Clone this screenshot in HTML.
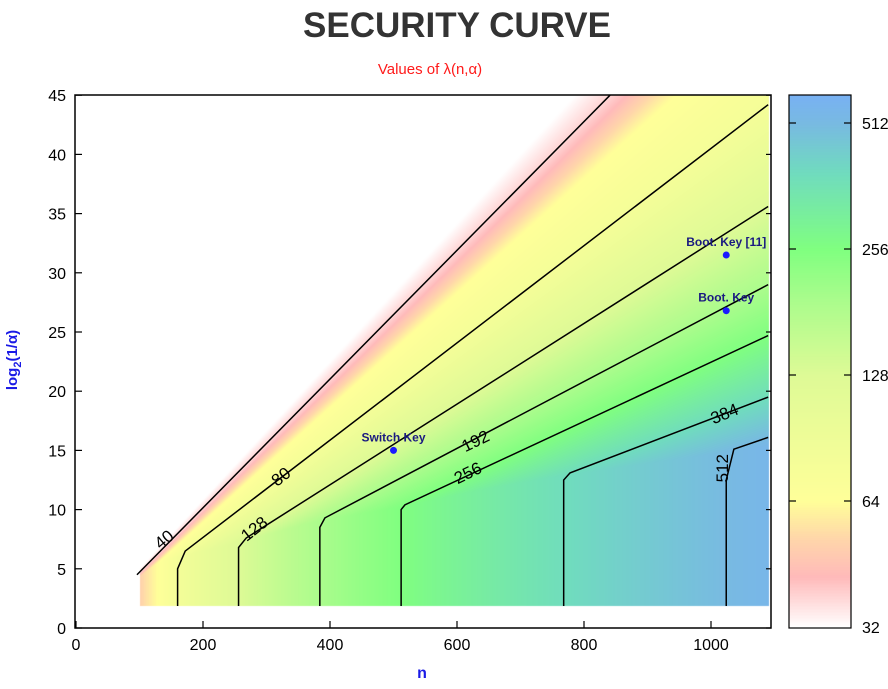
<!DOCTYPE html>
<html><head><meta charset="utf-8">
<style>
body{margin:0;background:#fff;width:888px;height:689px;overflow:hidden;font-family:"Liberation Sans",sans-serif}
#wrap{position:relative;width:888px;height:689px}
canvas,svg{position:absolute;left:0;top:0}
</style></head>
<body>
<div id="wrap">
<canvas id="heat" width="888" height="689"></canvas>
<svg id="svg" width="888" height="689">
<text x="457" y="37" text-anchor="middle" font-size="35" font-weight="bold" fill="#333" font-family="Liberation Sans, sans-serif">SECURITY CURVE</text>
<text x="430" y="74" text-anchor="middle" font-size="15" fill="#ff1a1a">Values of λ(n,α)</text>
<text x="422" y="678" text-anchor="middle" font-size="16" font-weight="bold" fill="#1a1ae6">n</text>
<text transform="translate(17,360) rotate(-90)" text-anchor="middle" font-size="15" font-weight="bold" fill="#1a1ae6">log<tspan font-size="11" dy="4">2</tspan><tspan dy="-4">(1/α)</tspan></text>
</svg>
</div>
<script>
// ---- data ----
const xTicks=[0,200,400,600,800,1000];
const yTicks=[0,5,10,15,20,25,30,35,40,45];
const cbTicks=[32,64,128,256,512];
const levels=[40,80,128,192,256,384,512];
const vertN=[null,160,256,384,512,768,1024];
const kneeY=[null,5.0,6.8,8.5,10.0,12.5,12.5];
const startN=[96,172,268,392,518,778,1036];
const startY=[4.5,6.5,7.6,9.3,10.4,13.1,15.1];
const endN=[841,1090,1090,1090,1090,1090,1090];
const endY=[45,44.2,35.6,29,24.7,19.5,16.1];
const labelText=["40","80","128","192","256","384","512"];
const labelN=[140,324,282,630,618,1022,1020];
const labelY=[7.4,12.7,8.3,15.7,13.0,18.0,13.5];
const labelAng=[-40,-38,-38,-26,-26,-22,-90];
const ptNames=["Switch Key","Boot. Key [11]","Boot. Key"];
const ptN=[500,1024,1024];
const ptY=[15,31.5,26.8];
// ---- axes ----
const X0=76,XS=0.635,Y0=628,YS=11.84;
const L=75,R=771,T=95,B=628;
const nMin=100,nMax=1091,yMin=1.86;
function sx(n){return X0+XS*n}
function sy(v){return Y0-YS*v}
function ix(px){return (px-X0)/XS}
function iy(py){return (Y0-py)/YS}
const CB={l:789,r:851,t:95,b:628};
function cby(l){return 627-126*(Math.log2(l)-5)}
// colormap
const cStops=[[5,[255,255,255]],[5.4,[255,186,186]],[5.7,[255,214,170]],[6,[255,255,153]],[7,[222,250,150]],[7.6,[170,252,140]],[8,[128,255,128]],[8.6,[112,220,190]],[9,[120,186,226]],[9.25,[120,176,245]]];
function col(lv){
 if(lv<=cStops[0][0])return cStops[0][1];
 for(let i=1;i<cStops.length;i++){if(lv<=cStops[i][0]){const a=cStops[i-1],b=cStops[i],t=(lv-a[0])/(b[0]-a[0]);return a[1].map((c,k)=>c+(b[1][k]-c)*t);}}
 return cStops[cStops.length-1][1];
}
function lineY(k,n){return startY[k]+(endY[k]-startY[k])*(n-startN[k])/(endN[k]-startN[k])}
function firstBand(t){
 if(t<0.12)return 5.25+t/0.12*0.15;
 if(t<0.45)return 5.4+(t-0.12)/0.33*0.6;
 return 6+(t-0.45)/0.55*0.32;
}
function lam(n,y){
 const ys=levels.map((_,k)=>lineY(k,n));
 const lg=levels.map(Math.log2);
 let v;
 if(y>=ys[0]){v=5.25-(y-ys[0])/(0.3*Math.max(0.5,ys[0]-ys[1]))*0.25;}
 else if(y<=ys[6]){v=lg[6]+(ys[6]-y)/Math.max(0.5,ys[5]-ys[6])*(lg[6]-lg[5]);}
 else{for(let k=0;k<6;k++){if(y<=ys[k]&&y>=ys[k+1]){let t=(ys[k]-y)/Math.max(1e-6,ys[k]-ys[k+1]);v=(k===0)?firstBand(t):lg[k]+t*(lg[k+1]-lg[k]);break;}}}
 return Math.min(v,Math.log2(n/2));
}
// ---- heatmap ----
const cv=document.getElementById('heat'),ctx=cv.getContext('2d');
const img=ctx.createImageData(888,689);
for(let py=Math.round(sy(45));py<Math.round(sy(yMin));py++){
 for(let px=Math.round(sx(nMin));px<Math.round(sx(nMax));px++){
  const c=col(lam(ix(px),iy(py)));const o=(py*888+px)*4;
  img.data[o]=c[0];img.data[o+1]=c[1];img.data[o+2]=c[2];img.data[o+3]=255;}}
for(let py=CB.t;py<CB.b;py++){const c=col(5+(627-py)/126);
 for(let px=CB.l;px<CB.r;px++){const o=(py*888+px)*4;img.data[o]=c[0];img.data[o+1]=c[1];img.data[o+2]=c[2];img.data[o+3]=255;}}
ctx.putImageData(img,0,0);
// ---- svg ----
const svg=document.getElementById('svg');const NS='http://www.w3.org/2000/svg';
function mk(t,a){const e=document.createElementNS(NS,t);for(const k in a)e.setAttribute(k,a[k]);svg.appendChild(e);return e;}
// contours
levels.forEach((lv,k)=>{
 let pts=[];
 if(vertN[k]!==null){pts.push([sx(vertN[k]),sy(yMin)]);pts.push([sx(vertN[k]),sy(kneeY[k])]);}
 pts.push([sx(startN[k]),sy(startY[k])]);pts.push([sx(endN[k]),sy(endY[k])]);
 const e=mk('polyline',{points:pts.map(p=>p.join(',')).join(' '),fill:'none',stroke:'#000','stroke-width':1.5});
 
 
 const t=mk('text',{transform:`translate(${sx(labelN[k])},${sy(labelY[k])}) rotate(${labelAng[k]})`,'text-anchor':'middle','dominant-baseline':'middle','font-size':17,fill:'#000'});
 t.textContent=labelText[k];
 
 
});
// points
ptNames.forEach((nm,i)=>{
 const c=mk('circle',{cx:sx(ptN[i]),cy:sy(ptY[i]),r:3.5,fill:'#1a1aff'});
 
 
 const t=mk('text',{x:sx(ptN[i]),y:sy(ptY[i])-9,'text-anchor':'middle','font-size':12,'font-weight':'bold',fill:'#1a1a80'});
 t.textContent=nm;
 
 
});
// frame
const fr=mk('rect',{x:L,y:T,width:R-L,height:B-T,fill:'none',stroke:'#000','stroke-width':1.5});


xTicks.forEach(v=>{
 mk('line',{x1:sx(v),x2:sx(v),y1:B,y2:B-7,stroke:'#000','stroke-width':1.2});
 const t=mk('text',{x:sx(v),y:650,'text-anchor':'middle','font-size':16,fill:'#000'});
 t.textContent=v;
 
 
});
yTicks.forEach(v=>{
 mk('line',{x1:L,x2:L+7,y1:sy(v),y2:sy(v),stroke:'#000','stroke-width':1.2});
 mk('line',{x1:R,x2:R-5,y1:sy(v),y2:sy(v),stroke:'#000','stroke-width':1.2});
 const t=mk('text',{x:66,y:sy(v)+6,'text-anchor':'end','font-size':16,fill:'#000'});
 t.textContent=v;
 
 
});
// colorbar
const cbr=mk('rect',{x:CB.l,y:CB.t,width:CB.r-CB.l,height:CB.b-CB.t,fill:'none',stroke:'#000','stroke-width':1.2});


cbTicks.forEach(v=>{
 const y=cby(v);
 if(v!==32){mk('line',{x1:CB.l,x2:CB.l+7,y1:y,y2:y,stroke:'#000','stroke-width':1.2});
 mk('line',{x1:CB.r,x2:CB.r-7,y1:y,y2:y,stroke:'#000','stroke-width':1.2});}
 const t=mk('text',{x:862,y:y+6,'font-size':16,fill:'#000'});
 t.textContent=v;
 
 
});
</script>
</body></html>
